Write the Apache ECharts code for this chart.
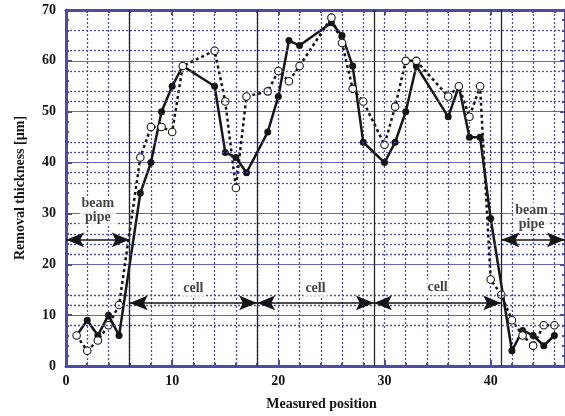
<!DOCTYPE html>
<html><head><meta charset="utf-8">
<script src="https://cdn.jsdelivr.net/npm/echarts@6/dist/echarts.min.js"></script>
<style>html,body{margin:0;padding:0;background:#fff}#c{width:565px;height:416px}</style>
</head><body><div id="c"></div>
<script>
// ---- data ----
const solidX = [1,2,3,4,5,7,8,9,10,11,14,15,16,17,19,20,21,22,25,26,27,28,30,31,32,33,36,37,38,39,40,42,43,44,45,46];
const solidY = [6,9,6,10,6,34,40,50,55,59,55,42,41,38,46,53,64,63,67.5,65,59,44,40,44,50,59,49,55,45,45,29,3,7,6,4,6];
const openX  = [1,2,3,4,5,7,8,9,10,11,14,15,16,17,19,20,21,22,25,26,27,28,30,31,32,33,36,37,38,39,40,41,42,43,44,45,46];
const openY  = [6,3,5,8,12,41,47,47,46,59,62,52,35,53,54,58,56,59,68.5,63.5,54.5,52,43.5,51,60,60,53,55,49,55,17,14,9,6,4,8,8];
const xTickLabels = ['0','10','20','30','40'];
const yTickLabels = ['0','10','20','30','40','50','60','70'];
const dottedY = [8,12,14,22,24,26,28,36,38,42,44,52,54,58,62,66];
const boundaries = [6,18,29,41];
const beamSpans = [[0,6],[41,47]];
const beamLevel = 24.8;
const cellSpans = [[6,18],[18,29],[29,41]];
const cellLevel = 12.4;
const annotText = ['beam\npipe','beam\npipe','cell','cell','cell'];
const annotX = [3,43.85,12,23.5,35];
const annotY = [30.5,29.2,15.3,15.3,15.5];

// ---- styles ----
const FONT = "'Liberation Serif','Times New Roman',serif";
const frame = '#4c4ca6';
const dotCol = '#4a4aaa';
const gridSolid = '#6666b8';
const ink = '#151515';
const arrowPath = 'path://M0,0 M36,36 M18,18 Q21.5,27 25,35 L18,31.5 L11,35 Q14.5,27 18,18 Z';

const chart = echarts.init(document.getElementById('c'), null, {renderer:'canvas'});

const toPairs = (xs, ys) => xs.map((x,i)=>[x, ys[i]]);

const arrowLines = [];
beamSpans.forEach(s => arrowLines.push([{coord:[s[0], beamLevel]},{coord:[s[1], beamLevel]}]));
cellSpans.forEach(s => arrowLines.push([{coord:[s[0], cellLevel]},{coord:[s[1], cellLevel]}]));

const option = {
  animation:false,
  backgroundColor:'#fff',
  grid:{left:66, top:10, width:500.5, height:360},
  xAxis:[{
    type:'value', min:0, max:47, interval:10, position:'bottom',
    axisLine:{show:true, onZero:false, lineStyle:{color:frame, width:3}},
    axisTick:{show:true, inside:true, length:6, lineStyle:{color:frame, width:2}},
    minorTick:{show:true, splitNumber:5, length:3, lineStyle:{color:frame, width:2}},
    splitLine:{show:true, lineStyle:{color:dotCol, type:[2,2], width:1.3}},
    minorSplitLine:{show:true, lineStyle:{color:dotCol, type:[2,2], width:1.3}},
    axisLabel:{
      formatter: v => xTickLabels.indexOf(String(v)) >= 0 ? String(v) : '',
      showMaxLabel:false, fontFamily:FONT, fontWeight:'bold', fontSize:14, color:ink, margin:8
    },
    name:'Measured position', nameLocation:'middle', nameGap:31,
    nameTextStyle:{fontFamily:FONT, fontWeight:'bold', fontSize:14, color:ink, padding:[0,0,0,12]}
  },{
    type:'value', min:0, max:47, interval:10, position:'top',
    axisLine:{show:true, onZero:false, lineStyle:{color:frame, width:3}},
    axisTick:{show:true, inside:true, length:5, lineStyle:{color:frame, width:2}},
    minorTick:{show:true, splitNumber:5, length:3, lineStyle:{color:frame, width:2}},
    splitLine:{show:false}, axisLabel:{show:false}
  }],
  yAxis:[{
    type:'value', min:0, max:70, interval:10, position:'left',
    axisLine:{show:true, onZero:false, lineStyle:{color:frame, width:3}},
    axisTick:{show:true, inside:true, length:6, lineStyle:{color:frame, width:2}},
    minorTick:{show:true, splitNumber:5, length:3, lineStyle:{color:frame, width:2}},
    splitLine:{show:true, lineStyle:{color:gridSolid, width:1.2}},
    axisLabel:{
      formatter: v => yTickLabels.indexOf(String(v)) >= 0 ? String(v) : '',
      fontFamily:FONT, fontWeight:'bold', fontSize:14, color:ink, margin:10
    },
    name:'Removal thickness [µm]', nameLocation:'middle', nameGap:39, nameRotate:90,
    nameTextStyle:{fontFamily:FONT, fontWeight:'bold', fontSize:14, color:ink}
  },{
    type:'value', min:0, max:70, interval:10, position:'right',
    axisLine:{show:true, onZero:false, lineStyle:{color:frame, width:3}},
    axisTick:{show:true, inside:true, length:5, lineStyle:{color:frame, width:2}},
    minorTick:{show:true, splitNumber:5, length:3, lineStyle:{color:frame, width:2}},
    splitLine:{show:false}, axisLabel:{show:false}
  }],
  series:[
    { // dotted grid rows and cell boundaries
      type:'scatter', data:[], z:1, silent:true,
      markLine:{
        silent:true, symbol:['none','none'], animation:false,
        label:{show:false},
        data: dottedY.map(v => ({yAxis:v, lineStyle:{color:dotCol, type:[2,2], width:1.3}}))
          .concat(boundaries.map(v => ({xAxis:v, lineStyle:{color:'#262626', type:'solid', width:1.3}})))
      }
    },
    {
      type:'line', data: toPairs(solidX, solidY), z:3,
      symbol:'circle', symbolSize:7, showAllSymbol:true,
      lineStyle:{color:ink, width:2.5},
      itemStyle:{color:ink}
    },
    {
      type:'line', data: toPairs(openX, openY), z:4,
      symbol:'circle', symbolSize:7.5, showAllSymbol:true,
      lineStyle:{color:ink, width:2.5, type:[3,3]},
      itemStyle:{color:'#fff', borderColor:ink, borderWidth:1.1}
    },
    { // arrows
      type:'scatter', data:[], z:5, silent:true,
      markLine:{
        silent:true, symbol:[arrowPath, arrowPath], symbolSize:38, animation:false,
        label:{show:false},
        lineStyle:{color:ink, type:'solid', width:1.5},
        itemStyle:{color:ink},
        data: arrowLines
      }
    },
    { // annotation texts
      type:'scatter', z:6, silent:true,
      symbolSize:1, itemStyle:{color:'rgba(0,0,0,0)'},
      data: annotText.map((t,i)=>({value:[annotX[i], annotY[i]], name:t})),
      label:{
        show:true, position:'inside', formatter: p => p.name,
        fontFamily:FONT, fontWeight:'bold', fontSize:14, color:ink, lineHeight:14,
        backgroundColor:'#fff', padding:[1,2]
      }
    }
  ]
};
chart.setOption(option);
</script>
</body></html>
